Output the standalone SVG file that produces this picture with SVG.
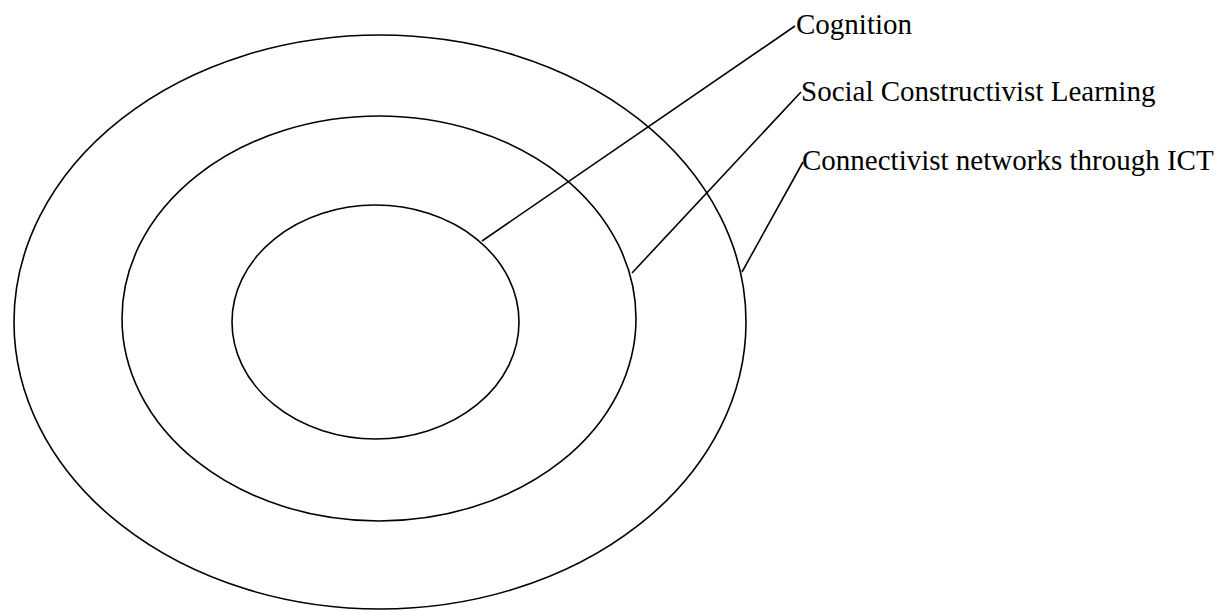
<svg xmlns="http://www.w3.org/2000/svg" width="1215" height="611" viewBox="0 0 1215 611">
<style>
.ring{fill:none;stroke:#000;stroke-width:1.6}
.conn{stroke:#000;stroke-width:1.6;fill:none}
.lbl{font-family:"Liberation Serif","Times New Roman",serif;font-size:29px;fill:#000}
</style>
<rect width="1215" height="611" fill="#fff"/>
<g id="outer"><ellipse class="ring" cx="380" cy="322" rx="366" ry="287"/></g>
<g id="middle"><ellipse class="ring" cx="379" cy="318.5" rx="257" ry="202.5"/></g>
<g id="inner"><ellipse class="ring" cx="375.5" cy="322" rx="143.5" ry="117"/></g>
<g id="connectors">
<line class="conn" x1="482" y1="241" x2="795" y2="26"/>
<line class="conn" x1="632" y1="273" x2="801" y2="92"/>
<line class="conn" x1="742" y1="272" x2="803" y2="162"/>
</g>
<g id="label-cognition"><text class="lbl" x="796" y="34">Cognition</text></g>
<g id="label-social"><text class="lbl" x="801" y="101">Social Constructivist Learning</text></g>
<g id="label-connectivist"><text class="lbl" x="802" y="170">Connectivist networks through ICT</text></g>
</svg>
